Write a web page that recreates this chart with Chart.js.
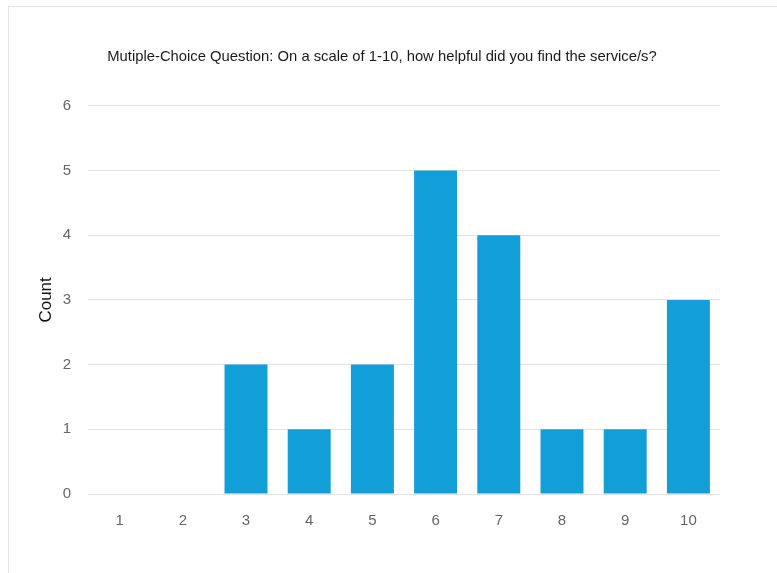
<!DOCTYPE html>
<html>
<head>
<meta charset="utf-8">
<script src="https://cdn.jsdelivr.net/npm/chart.js@4/dist/chart.umd.min.js"></script>
<style>
  html, body { margin: 0; padding: 0; background: #ffffff; }
  #wrap { position: relative; width: 777px; height: 573px; overflow: hidden; }
  #frame { position: absolute; left: 8px; top: 6px; width: 800px; height: 600px;
           border-top: 1px solid #e4e4e4; border-left: 1px solid #e4e4e4; }
  canvas { position: absolute; left: 0; top: 0; }
</style>
</head>
<body>
<div id="wrap">
  <div id="frame"></div>
  <canvas id="c" width="777" height="573"></canvas>
</div>
<script>
// Ratings on a 1-10 scale and how many respondents chose each one
const ratings = ['1', '2', '3', '4', '5', '6', '7', '8', '9', '10'];
const counts = [0, 0, 2, 1, 2, 5, 4, 1, 1, 3];
const yTicks = [0, 1, 2, 3, 4, 5, 6];

const titleText = 'Mutiple-Choice Question: On a scale of 1-10, how helpful did you find the service/s?';
const barColor = '#129fd7';
const fontFamily = '"Liberation Sans", Arial, Helvetica, sans-serif';

new Chart(document.getElementById('c'), {
  type: 'bar',
  data: {
    labels: ratings,
    datasets: [{
      data: counts,
      backgroundColor: barColor,
      borderWidth: 0,
      categoryPercentage: 0.68,
      barPercentage: 1.0
    }]
  },
  options: {
    responsive: false,
    animation: false,
    layout: { padding: { left: 44, right: 57, top: 0, bottom: 0 } },
    plugins: {
      legend: { display: false },
      tooltip: { enabled: false },
      title: {
        display: true,
        text: titleText,
        color: '#1a1a1a',
        font: { family: fontFamily, size: 14.8, weight: 'normal' },
        padding: { top: 48, bottom: 40 }
      }
    },
    scales: {
      x: {
        grid: { display: false, drawTicks: false },
        border: { display: false },
        ticks: {
          color: '#666666',
          font: { family: fontFamily, size: 15 },
          padding: 18
        },
        afterFit: (scale) => { scale.height = 79; }
      },
      y: {
        min: 0,
        max: 6,
        afterBuildTicks: (scale) => { scale.ticks = yTicks.map(v => ({ value: v })); },
        grid: { color: '#e2e2e2', lineWidth: 1, drawTicks: false },
        border: { display: false },
        ticks: {
          color: '#666666',
          font: { family: fontFamily, size: 15 },
          padding: 17
        },
        title: {
          display: true,
          text: 'Count',
          color: '#111111',
          font: { family: fontFamily, size: 17 },
          padding: { top: -8, bottom: 0 }
        },
        afterFit: (scale) => { scale.width = 44; }
      }
    }
  }
});
</script>
</body>
</html>
